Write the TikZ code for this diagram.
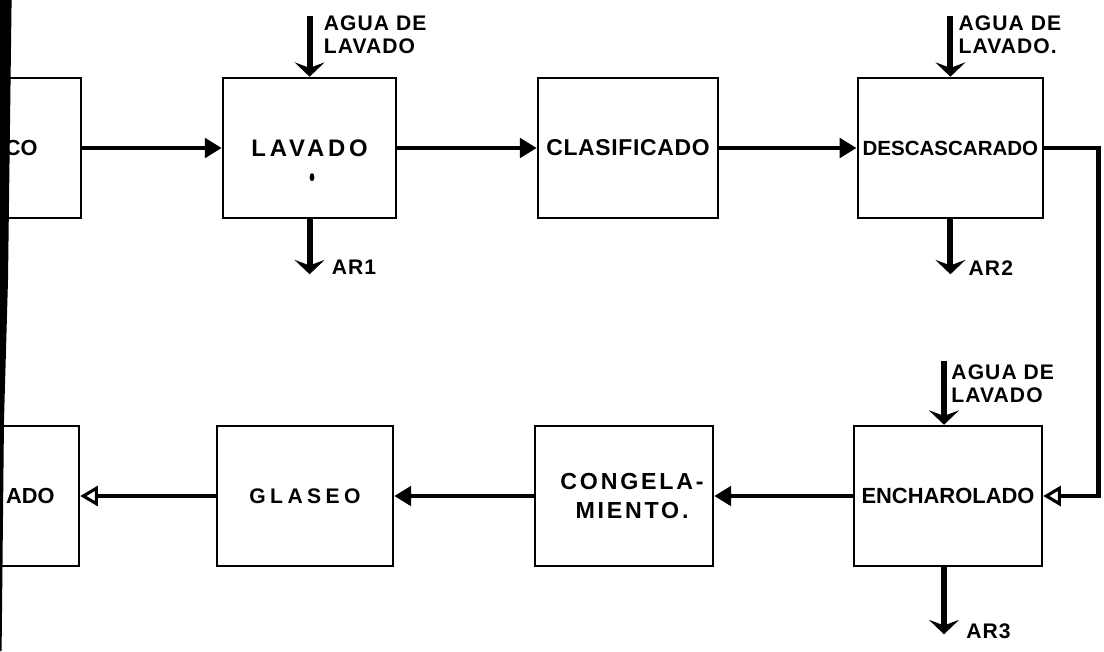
\documentclass[tikz,border=0pt]{standalone}
\usepackage{fontspec}
\setmainfont{Liberation Sans}
\usetikzlibrary{arrows.meta,positioning,calc}

\begin{document}
\begin{tikzpicture}[
  caja/.style={draw, line width=1.8pt, minimum height=3.5cm, inner sep=0pt,
               align=center},
  flujo/.style={-{Triangle[length=4.2mm,width=4.8mm]}, line width=3.2pt},
  flujoab/.style={-{Triangle[open,length=4.4mm,width=5mm,line width=2.2pt]},
                  line width=3.2pt},
  agua/.style={-{Stealth[length=3.6mm,width=7.5mm,inset=1.4mm]}, line width=4.3pt},
  rotulo/.style={inner sep=0pt, align=left,
                 font=\fontsize{15}{16.4}\selectfont\bfseries\addfontfeature{LetterSpace=5}}
]
\useasboundingbox (0,0) rectangle (27.6,-16.275);
\clip (0,0) rectangle (27.6,-16.275);
% fila de arriba
\node[caja, minimum width=3.0cm, font=\fontsize{15.5}{18}\selectfont\bfseries]
  (fresco) at (0.53,-3.7) {CO};
\node[caja, minimum width=4.33cm,
      font=\fontsize{17}{20}\selectfont\bfseries\addfontfeature{LetterSpace=16}]
  (lavado) at (7.74,-3.7) {LAVADO};
\node[caja, minimum width=4.5cm,
      font=\fontsize{16.3}{20}\selectfont\bfseries\addfontfeature{LetterSpace=3}]
  (clasificado) at (15.7,-3.7) {CLASIFICADO};
\node[caja, minimum width=4.63cm, font=\fontsize{14.6}{18}\selectfont\bfseries]
  (descascarado) at (23.76,-3.7) {DESCASCARADO};
% fila de abajo
\node[caja, minimum width=2.43cm, font=\fontsize{15.5}{18}\selectfont\bfseries]
  (ado) at (0.76,-12.4) {ADO};
\node[caja, minimum width=4.4cm,
      font=\fontsize{15}{18}\selectfont\bfseries\addfontfeature{LetterSpace=21}]
  (glaseo) at (7.625,-12.4) {GLASEO};
\node[caja, minimum width=4.45cm,
      font=\fontsize{16.5}{21.3}\selectfont\bfseries\addfontfeature{LetterSpace=12}]
  (congelamiento) at (15.6,-12.4) {\hspace*{0.4cm}CONGELA-\\\hspace*{0.4cm}MIENTO.};
\node[caja, minimum width=4.7cm, font=\fontsize{15.6}{18}\selectfont\bfseries]
  (encharolado) at (23.7,-12.4) {ENCHAROLADO};
\fill (7.8,-4.43) ellipse (0.06cm and 0.1cm);
% conexiones
\draw[flujo] (fresco) -- (lavado);
\draw[flujo] (lavado) -- (clasificado);
\draw[flujo] (clasificado) -- (descascarado);
\draw[flujoab] (descascarado.east) -- ++(1.35,0) |- (encharolado.east);
\draw[flujo] (encharolado) -- (congelamiento);
\draw[flujo] (congelamiento) -- (glaseo);
\draw[flujoab] (glaseo) -- (ado);
% agua de lavado y aguas residuales
\coordinate (agua1) at ([yshift=1.525cm]lavado.north);
\coordinate (agua2) at ([yshift=1.525cm]descascarado.north);
\coordinate (agua3) at ([xshift=-0.1cm,yshift=1.6cm]encharolado.north);
\coordinate (ar1) at ([yshift=-1.375cm]lavado.south);
\coordinate (ar2) at ([yshift=-1.375cm]descascarado.south);
\coordinate (ar3) at ([xshift=-0.1cm,yshift=-1.675cm]encharolado.south);
\draw[agua] (agua1) -- (lavado.north);
\draw[agua] (agua2) -- (descascarado.north);
\draw[agua] (agua3) -- (agua3 |- encharolado.north);
\draw[agua] (lavado.south) -- (ar1);
\draw[agua] (descascarado.south) -- (ar2);
\draw[agua] (ar3 |- encharolado.south) -- (ar3);
\node[rotulo, anchor=north west] (txtagua1) at ([xshift=0.35cm]agua1) {AGUA DE\\LAVADO};
\node[rotulo, anchor=north west] (txtagua2) at ([xshift=0.2cm]agua2) {AGUA DE\\LAVADO.};
\node[rotulo, anchor=north west] (txtagua3) at ([xshift=0.18cm,yshift=-0.1cm]agua3) {AGUA DE\\LAVADO};
\node[rotulo, anchor=west] (txtar1) at ([xshift=0.55cm,yshift=0.18cm]ar1) {AR1};
\node[rotulo, anchor=west] (txtar2) at ([xshift=0.45cm,yshift=0.16cm]ar2) {AR2};
\node[rotulo, anchor=west] (txtar3) at ([xshift=0.55cm,yshift=0.08cm]ar3) {AR3};
% borde negro del escaneo
\fill (0,0) -- (0.29,0) -- (0.2,-7) -- (0.1,-10.5) -- (0.04,-16.275) -- (0,-16.275) -- cycle;
\end{tikzpicture}
\end{document}
